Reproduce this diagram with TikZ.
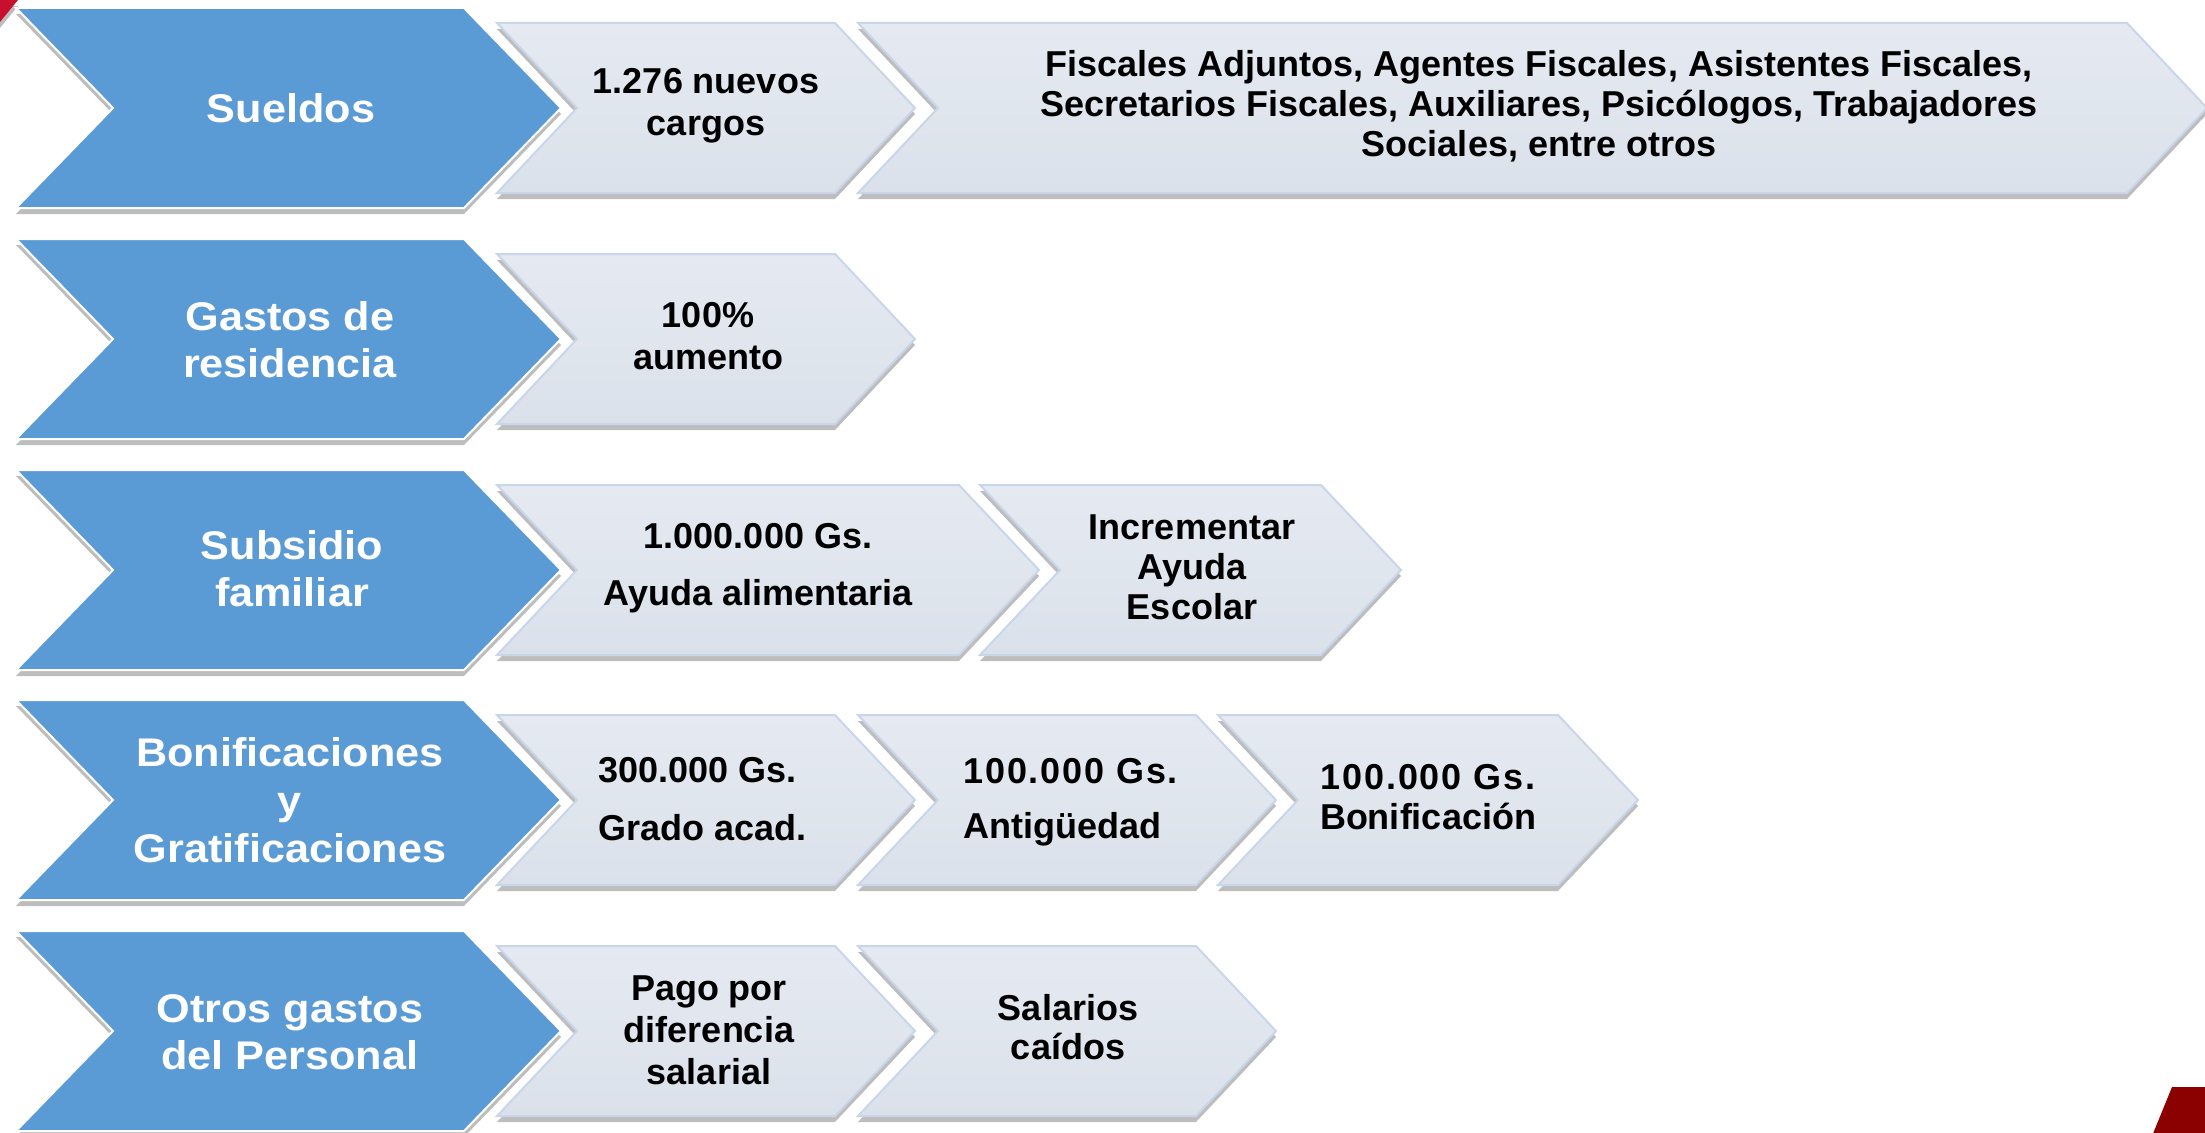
\documentclass[tikz,border=0pt]{standalone}
\usepackage{fontspec}
\setmainfont{Liberation Sans}
\newfontfamily\headfont[FakeStretch=1.08]{Liberation Sans}
\usetikzlibrary{shadows}
\definecolor{headblue}{HTML}{5B9BD5}
\definecolor{itemtop}{HTML}{E5EAF2}
\definecolor{itembottom}{HTML}{DBE1EA}
\definecolor{itemedge}{HTML}{C9D6E9}
\definecolor{cornerred}{HTML}{C8102E}
\definecolor{cornerdark}{HTML}{8B0000}

% chevron: left x, top y, width, height, depth, style
\newcommand{\chevron}[6]{%
  \path[#6] (#1,#2) -- ++(#3-#5,0) -- ++(#5,#4/2) -- ++(-#5,#4/2)
    -- ++(-#3+#5,0) -- ++(#5,-#4/2) -- cycle;
}

\begin{document}
\begin{tikzpicture}[x=1pt, y=-1pt,
    chevshadow/.style={drop shadow={shadow xshift=0pt, shadow yshift=-6pt, opacity=.4, fill=black!65}},
    headchev/.style={fill=headblue, draw=white, line width=2pt, chevshadow},
    itemchev/.style={top color=itemtop, bottom color=itembottom, draw=itemedge, line width=2pt, chevshadow},
    headtext/.style={text=white, font=\headfont\fontsize{40}{47}\selectfont\bfseries, align=center},
    itemtext/.style={text=black, font=\fontsize{36}{42}\selectfont\bfseries, align=center}]
        \useasboundingbox (0,0) rectangle (2205,1132);

        % Corner marks
        \fill[cornerred, chevshadow] (0,0) -- (18,0) -- (0,22) -- cycle;
        \fill[cornerdark] (2172,1087) -- (2210,1087) -- (2210,1136) -- (2152,1136) -- cycle;

        % Row 1: Sueldos
        \chevron{16}{8}{545}{200}{97}{headchev}
        \chevron{497}{23}{418}{170}{80}{itemchev}
        \chevron{858}{23}{1349}{170}{80}{itemchev}
        \node[headtext] (sueldos) at (291,108) {Sueldos};
        \node[itemtext] (cargos) at (706,106) {1.276 nuevos\\cargos};
        \node[itemtext, font=\fontsize{36}{40}\selectfont\bfseries] (puestos) at (1539,106)
          {Fiscales Adjuntos, Agentes Fiscales, Asistentes Fiscales,\\Secretarios Fiscales, Auxiliares, Psicólogos, Trabajadores\\Sociales, entre otros};

        % Row 2: Gastos de residencia
        \chevron{16}{239}{545}{200}{97}{headchev}
        \chevron{497}{254}{418}{170}{80}{itemchev}
        \node[headtext] (residencia) at (290,340) {Gastos de\\residencia};
        \node[itemtext] (aumento) at (708,336) {100\%\\aumento};

        % Row 3: Subsidio familiar
        \chevron{16}{470}{545}{200}{97}{headchev}
        \chevron{497}{485}{542}{170}{80}{itemchev}
        \chevron{980}{485}{421}{170}{80}{itemchev}
        \node[headtext] (subsidio) at (292,569) {Subsidio\\familiar};
        \node[itemtext] (alimentaria) at (758,568) {1.000.000 Gs.\\[15pt]Ayuda alimentaria};
        \node[itemtext, font=\fontsize{36}{40}\selectfont\bfseries] (escolar) at (1192,567) {Incrementar\\Ayuda\\Escolar};

        % Row 4: Bonificaciones y Gratificaciones
        \chevron{16}{700}{545}{200}{97}{headchev}
        \chevron{497}{715}{418}{170}{80}{itemchev}
        \chevron{858}{715}{418}{170}{80}{itemchev}
        \chevron{1218}{715}{420}{170}{80}{itemchev}
        \node[headtext, font=\headfont\fontsize{40}{48}\selectfont\bfseries] (bonif) at (290,800) {Bonificaciones\\y\\Gratificaciones};
        \node[itemtext, align=left, anchor=west] (grado) at (595,799) {300.000 Gs.\\[16pt]Grado acad.};
        \node[itemtext, align=left, anchor=west] (antig) at (960,802)
          {\addfontfeature{LetterSpace=5}100.000 Gs.\\[13pt]Antigüedad};
        \node[itemtext, font=\fontsize{36}{40}\selectfont\bfseries] (bonific) at (1428,797)
          {{\addfontfeature{LetterSpace=5}100.000 Gs.}\\Bonificación};

        % Row 5: Otros gastos del Personal
        \chevron{16}{931}{545}{200}{97}{headchev}
        \chevron{497}{946}{418}{170}{80}{itemchev}
        \chevron{858}{946}{418}{170}{80}{itemchev}
        \node[headtext] (otros) at (290,1032) {Otros gastos\\del Personal};
        \node[itemtext] (diferencia) at (709,1030) {Pago por\\diferencia\\salarial};
        \node[itemtext, font=\fontsize{36}{39}\selectfont\bfseries] (caidos) at (1068,1027) {Salarios\\caídos};
      \end{tikzpicture}
\end{document}
